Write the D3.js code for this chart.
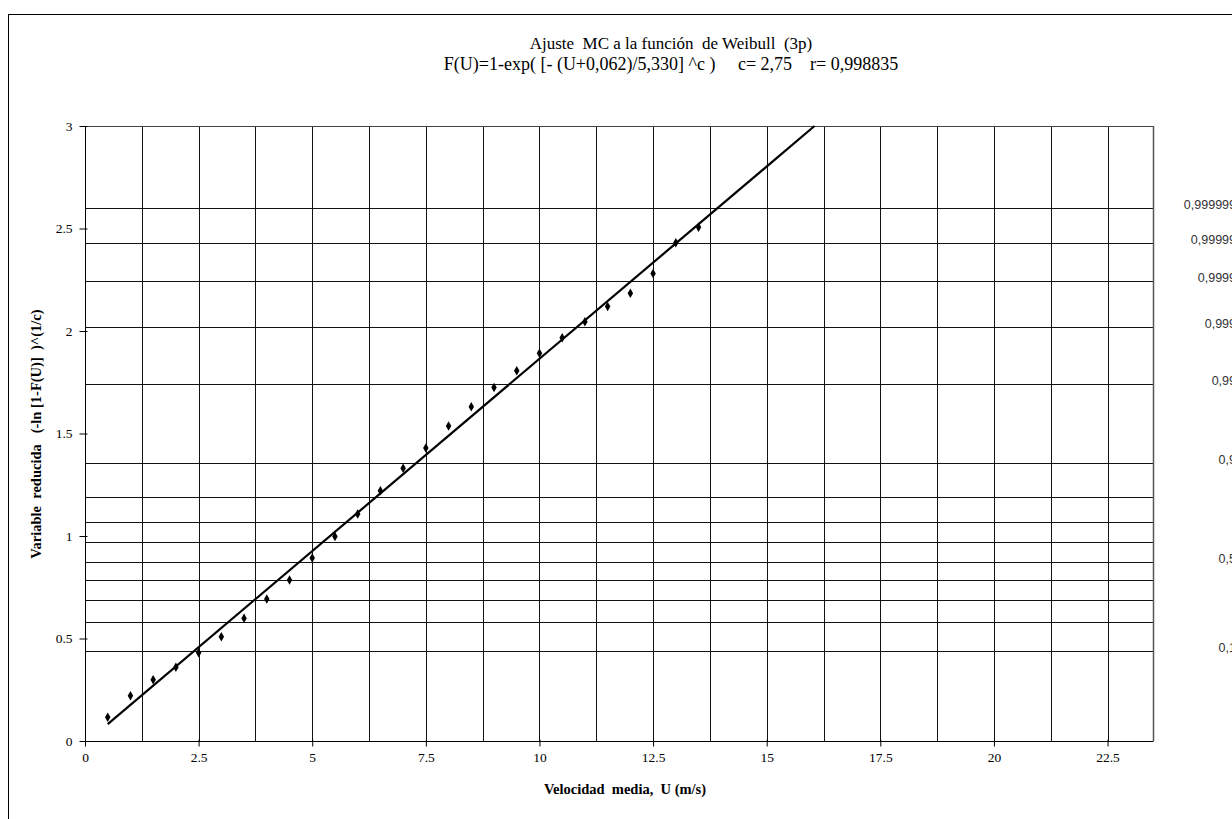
<!DOCTYPE html>
<html>
<head>
<meta charset="utf-8">
<script src="https://cdn.jsdelivr.net/npm/d3@7"></script>
<style>
  html, body { margin: 0; padding: 0; background: #fff; overflow: hidden; }
  svg { display: block; }
  text { white-space: pre; }
</style>
</head>
<body>
<svg id="chart" width="1232" height="819"></svg>
<script>
// ---- Data ----
const titleLines = [
  "Ajuste  MC a la función  de Weibull  (3p)",
  "F(U)=1-exp( [- (U+0,062)/5,330] ^c )     c= 2,75    r= 0,998835"
];
const titleSizes = [17, 18];
const xTitle = "Velocidad  media,  U (m/s)";
const yTitle = "Variable  reducida   (-ln [1-F(U)]  )^(1/c)";

const velocity = [0.5, 1, 1.5, 2, 2.5, 3, 3.5, 4, 4.5, 5, 5.5, 6, 6.5, 7, 7.5, 8, 8.5, 9, 9.5, 10, 10.5, 11, 11.5, 12, 12.5, 13, 13.5];
const reduced  = [0.116, 0.221, 0.299, 0.360, 0.431, 0.509, 0.599, 0.693, 0.785, 0.893, 0.997, 1.107, 1.221, 1.330, 1.429, 1.537, 1.631, 1.724, 1.806, 1.891, 1.967, 2.045, 2.119, 2.184, 2.280, 2.431, 2.506];

const fitU = [0.5, 16.052];
const fitY = [0.0822, 3.0];

const weibullC = 2.75;
const probLevels = [0.1, 0.2, 0.3, 0.4, 0.5, 0.6, 0.7, 0.8, 0.9, 0.99, 0.999, 0.9999, 0.99999, 0.999999];
const probLabelValues = [0.1, 0.5, 0.9, 0.99, 0.999, 0.9999, 0.99999, 0.999999];
const probLabelTexts  = ["0,1", "0,5", "0,9", "0,99", "0,999", "0,9999", "0,99999", "0,999999"];

const xTickValues = [0, 2.5, 5, 7.5, 10, 12.5, 15, 17.5, 20, 22.5];
const xTickLabels = ["0", "2.5", "5", "7.5", "10", "12.5", "15", "17.5", "20", "22.5"];
const yTickValues = [0, 0.5, 1, 1.5, 2, 2.5, 3];
const yTickLabels = ["0", "0.5", "1", "1.5", "2", "2.5", "3"];
const xGridStep = 1.25;

// ---- Layout ----
const svg = d3.select("#chart");
const L = 85, R = 1153, T = 126, B = 741;
const x = d3.scaleLinear().domain([0, 23.5]).range([L, R]);
const y = d3.scaleLinear().domain([0, 3]).range([B, T]);
const serif = "'Liberation Serif', 'Times New Roman', serif";
const sans = "'Liberation Sans', Arial, sans-serif";

// outer frame
svg.append("rect").attr("x", 8.5).attr("y", 14.5).attr("width", 1240).attr("height", 820)
  .attr("fill", "none").attr("stroke", "#000").attr("stroke-width", 1);

// titles
svg.selectAll("text.title").data(titleLines).join("text")
  .attr("class", "title")
  .attr("x", 671).attr("y", (d, i) => 49 + i * 21)
  .attr("text-anchor", "middle")
  .attr("font-family", serif).attr("font-size", (d, i) => titleSizes[i])
  .attr("fill", "#000")
  .text(d => d);

// vertical grid lines
const gridX = d3.range(xGridStep, 23.5 - 1e-9, xGridStep);
svg.append("g").selectAll("line").data(gridX).join("line")
  .attr("x1", d => Math.round(x(d)) + 0.5).attr("x2", d => Math.round(x(d)) + 0.5)
  .attr("y1", T).attr("y2", B)
  .attr("stroke", "#111").attr("stroke-width", 1);

// probability horizontal grid lines
const reducedOf = F => Math.pow(-Math.log(1 - F), 1 / weibullC);
svg.append("g").selectAll("line").data(probLevels).join("line")
  .attr("x1", L).attr("x2", R)
  .attr("y1", d => Math.round(y(reducedOf(d))) + 0.5).attr("y2", d => Math.round(y(reducedOf(d))) + 0.5)
  .attr("stroke", "#111").attr("stroke-width", 1);

// plot border (top and right)
svg.append("line").attr("x1", L).attr("x2", R + 0.5).attr("y1", T + 0.5).attr("y2", T + 0.5)
  .attr("stroke", "#444").attr("stroke-width", 1);
svg.append("line").attr("x1", R + 0.5).attr("x2", R + 0.5).attr("y1", T).attr("y2", B)
  .attr("stroke", "#555").attr("stroke-width", 1.5);

// right-side probability labels
svg.append("g").selectAll("text").data(probLabelValues).join("text")
  .attr("x", 1236)
  .attr("y", d => y(reducedOf(d)) + 1)
  .attr("text-anchor", "end")
  .attr("font-family", sans).attr("font-size", 12.5)
  .attr("fill", "#333")
  .text((d, i) => probLabelTexts[i]);

// axes
const xAxis = d3.axisBottom(x).tickValues(xTickValues).tickSize(5).tickPadding(6)
  .tickFormat((d, i) => xTickLabels[i]);
const gx = svg.append("g").attr("transform", `translate(0,${B + 0.5})`).call(xAxis);
gx.select(".domain").attr("d", `M${L - 5},0H${R + 0.5}`).attr("stroke", "#000");
gx.selectAll(".tick line").attr("stroke", "#000").attr("y1", -2);
gx.selectAll(".tick text").attr("font-family", serif).attr("font-size", 13.5).attr("fill", "#000");

const yAxis = d3.axisLeft(y).tickValues(yTickValues).tickSize(5).tickPadding(8)
  .tickFormat((d, i) => yTickLabels[i]);
const gy = svg.append("g").attr("transform", `translate(${L + 0.5},0)`).call(yAxis);
gy.select(".domain").attr("d", `M0,${T}V${B + 4}`).attr("stroke", "#000");
gy.selectAll(".tick line").attr("stroke", "#000").attr("x2", -6).attr("x1", 2);
gy.selectAll(".tick text").attr("font-family", serif).attr("font-size", 13.5).attr("fill", "#000");

// axis titles
svg.append("text").attr("x", 625).attr("y", 794)
  .attr("text-anchor", "middle").attr("font-family", serif).attr("font-size", 14.5)
  .attr("font-weight", "bold").attr("fill", "#000").text(xTitle);
svg.append("text").attr("transform", "translate(41,434) rotate(-90)")
  .attr("text-anchor", "middle").attr("font-family", serif).attr("font-size", 14.5)
  .attr("font-weight", "bold").attr("fill", "#000").text(yTitle);

// fit line
const pts = fitU.map((u, i) => [u, fitY[i]]);
svg.append("path").datum(pts)
  .attr("d", d3.line().x(d => x(d[0])).y(d => y(d[1])))
  .attr("fill", "none").attr("stroke", "#000").attr("stroke-width", 2.2);

// data points (diamonds)
const diamond = d3.symbol().type(d3.symbolDiamond).size(26);
svg.append("g").selectAll("path").data(velocity).join("path")
  .attr("transform", (d, i) => `translate(${x(d)},${y(reduced[i])})`)
  .attr("d", diamond)
  .attr("fill", "#000");
</script>
</body>
</html>
